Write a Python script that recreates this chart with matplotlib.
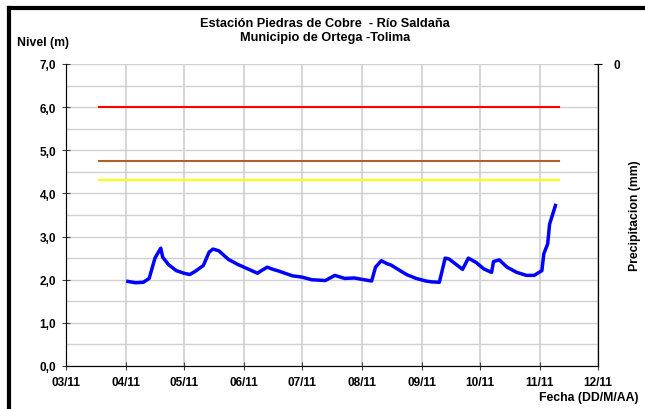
import matplotlib
matplotlib.use("Agg")
import matplotlib.pyplot as plt
import matplotlib.dates as mdates
from matplotlib.ticker import FuncFormatter, MultipleLocator
import pandas as pd

plt.rcParams['font.family'] = ['Liberation Sans', 'DejaVu Sans']
plt.rcParams['font.weight'] = 'bold'

# nivel del rio (m)
fechas = ["2011-04-02", "2011-04-06", "2011-04-10", "2011-04-13", "2011-04-16",
          "2011-04-17", "2011-04-19", "2011-04-20", "2011-04-23", "2011-04-27",
          "2011-05-01", "2011-05-04", "2011-05-07", "2011-05-11", "2011-05-14",
          "2011-05-16", "2011-05-19", "2011-05-24", "2011-05-29", "2011-06-03",
          "2011-06-08", "2011-06-10", "2011-06-13", "2011-06-16", "2011-06-19",
          "2011-06-26", "2011-07-01", "2011-07-06", "2011-07-13", "2011-07-18",
          "2011-07-23", "2011-07-28", "2011-08-02", "2011-08-06", "2011-08-08",
          "2011-08-11", "2011-08-14", "2011-08-16", "2011-08-24", "2011-08-29",
          "2011-09-03", "2011-09-06", "2011-09-10", "2011-09-13", "2011-09-15",
          "2011-09-22", "2011-09-25", "2011-09-29", "2011-10-03", "2011-10-07",
          "2011-10-08", "2011-10-11", "2011-10-15", "2011-10-20", "2011-10-25",
          "2011-10-29", "2011-11-02", "2011-11-03", "2011-11-05", "2011-11-06",
          "2011-11-09"]
nivel = [1.96, 1.93, 1.94, 2.03, 2.50, 2.58, 2.73, 2.52, 2.35, 2.21,
         2.15, 2.12, 2.20, 2.33, 2.64, 2.71, 2.67, 2.47, 2.35, 2.25,
         2.15, 2.21, 2.29, 2.24, 2.20, 2.09, 2.06, 2.00, 1.98, 2.10,
         2.03, 2.04, 2.00, 1.97, 2.29, 2.44, 2.37, 2.34, 2.12, 2.03,
         1.97, 1.95, 1.94, 2.50, 2.48, 2.24, 2.50, 2.40, 2.25, 2.17,
         2.42, 2.46, 2.29, 2.17, 2.10, 2.10, 2.21, 2.60, 2.83, 3.29,
         3.72]

# niveles de alerta
alerta_inicio = "2011-03-18"
alerta_fin = "2011-11-11"
alerta_roja = 6.0
alerta_naranja = 4.75
alerta_amarilla = 4.3

meses = pd.date_range("2011-03-01", "2011-12-01", freq="MS")

fig = plt.figure(figsize=(6.45, 4.1), dpi=100)
ax = fig.add_axes([0.1023, 0.1049, 0.8248, 0.7366])

x = pd.to_datetime(fechas)
xa = pd.to_datetime([alerta_inicio, alerta_fin])
ax.plot(xa, [alerta_roja] * 2, color="#ff0000", lw=1.5)
ax.plot(xa, [alerta_naranja] * 2, color="#b0602a", lw=1.5)
ax.plot(xa, [alerta_amarilla] * 2, color="#ffff00", lw=1.5)
ax.plot(x, nivel, color="#0000ff", lw=2.5)

ax.set_xlim(meses[0], meses[-1])
ax.set_ylim(0, 7)
ax.set_xticks(meses)
ax.xaxis.set_major_formatter(mdates.DateFormatter("%m/%y"))
ax.yaxis.set_major_locator(MultipleLocator(1))
ax.yaxis.set_minor_locator(MultipleLocator(0.5))
ax.yaxis.set_major_formatter(FuncFormatter(lambda v, p: f"{v:.1f}".replace(".", ",")))
ax.grid(True, which="both", axis="y", color="#d0d0d0", lw=1)
ax.grid(True, which="major", axis="x", color="#d0d0d0", lw=1.2)
ax.set_axisbelow(True)
ax.tick_params(axis="both", which="major", direction="inout", length=6,
               labelsize=8.5, color="#404040", pad=4)
ax.tick_params(axis="y", which="minor", length=0)
ax.spines["top"].set_visible(False)
ax.spines["left"].set_color("#404040")
ax.spines["bottom"].set_color("#404040")
ax.spines["right"].set_color("black")

ax2 = ax.twinx()
ax2.set_ylim(1, 0)
ax2.set_yticks([0])
ax2.set_yticklabels(["0"])
ax2.tick_params(axis="y", direction="inout", length=6, labelsize=8.5, pad=8)
ax2.spines["top"].set_visible(False)

fig.text(0.504, 0.942, "Estación Piedras de Cobre  - Río Saldaña", ha="center",
         va="center", fontsize=9.2, fontweight="bold")
fig.text(0.504, 0.908, "Municipio de Ortega -Tolima", ha="center", va="center",
         fontsize=9.2, fontweight="bold")
fig.text(0.026, 0.895, "Nivel (m)", ha="left", va="center", fontsize=8.8,
         fontweight="bold")
fig.text(0.99, 0.03, "Fecha (DD/M/AA)", ha="right", va="center", fontsize=8.8,
         fontweight="bold")
fig.text(0.984, 0.473, "Precipitacion (mm)", ha="center", va="center",
         rotation=90, fontsize=8.8, fontweight="bold")

# marco negro del recuadro original
fig.add_artist(plt.Line2D([0.014, 1.0], [0.978, 0.978], color="black", lw=3))
fig.add_artist(plt.Line2D([0.014, 0.014], [0.0, 0.978], color="black", lw=3))

fig.savefig("out.png", dpi=100)
